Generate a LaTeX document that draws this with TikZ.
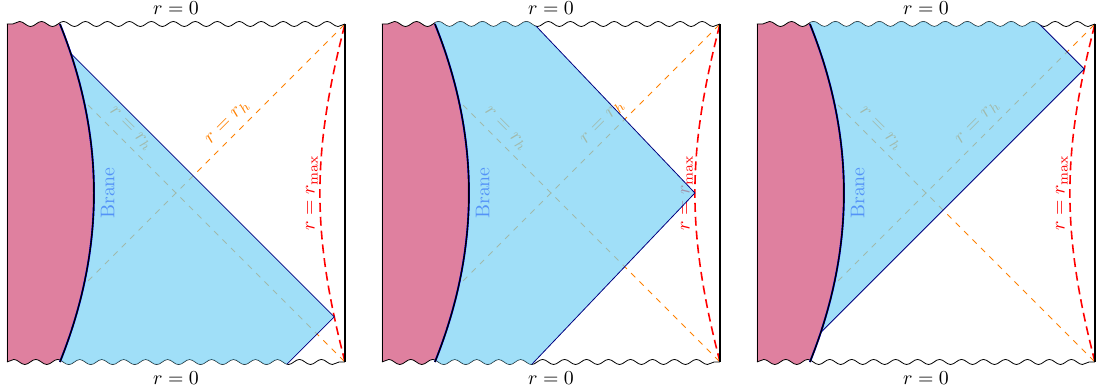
\documentclass[tikz,border=0pt]{standalone}
\usepackage{amsmath}
\usetikzlibrary{decorations.pathmorphing}
\definecolor{branefill}{RGB}{120,210,245}
\definecolor{braneedge}{RGB}{0,0,128}

\tikzset{
  wave/.style={decoration={snake, amplitude=0.045cm, segment length=0.39cm}},
  sing/.style={wave, decorate},
  horizon/.style={orange, dashed, thin},
  cutoff/.style={red, thick, dash pattern=on 4.5pt off 2.5pt},
  bulk/.style={fill=branefill, fill opacity=0.7},
}

\begin{document}
\begin{tikzpicture}
\useasboundingbox (-0.124,-0.533) rectangle (19.386,6.426);
\foreach \p in {0,1,2}{
\begin{scope}[xshift=\p*6.657cm]
  % inside of the diagram, cut by the singularities
  \begin{scope}
    \clip decorate[wave]{(0,0) -- (6,0)} -- (6,7) -- (0,7) -- cycle;
    \clip decorate[wave]{(6,6) -- (0,6)} -- (0,-1) -- (6,-1) -- cycle;
    \fill[purple!50] (0,6.3) -- (0.94,6.3) -- (0.94,6) .. controls (1.745,4) and (1.745,2) .. (0.94,0) -- (0.94,-0.3) -- (0,-0.3) -- cycle;
    \draw[horizon] (1.44,1.44) -- (6,6) node[pos=0.58, sloped, above] (rhA\p) {$r=r_h$};
    \draw[horizon] (1.44,4.56) -- (6,0) node[pos=0.13, sloped, above] (rhB\p) {$r=r_h$};
    \draw[cutoff] (6,0) .. controls (5.407,2.3) and (5.407,3.7) .. (6,6);
    \node[red, rotate=90, anchor=south, inner sep=1pt] (rmax\p) at (5.555,3) {$r=r_{\max}$};
    \node[blue, rotate=90] (brane\p) at (1.79,3) {Brane};
  \end{scope}
  \draw[sing] (0,0) -- (6,0);
  \draw[sing] (6,6) -- (0,6);
  \draw (0,0) -- (0,6);
  \draw[semithick] (6,0) -- (6,6);
  % region kept by the brane
  \begin{scope}
    \clip decorate[wave]{(0,0) -- (6,0)} -- (6,7) -- (0,7) -- cycle;
    \clip decorate[wave]{(6,6) -- (0,6)} -- (0,-1) -- (6,-1) -- cycle;
    \clip (0.94,6.3) -- (0.94,6) .. controls (1.745,4) and (1.745,2) .. (0.94,0) -- (0.94,-0.3) -- (6.3,-0.3) -- (6.3,6.3) -- cycle;
    \ifcase\p
      \fill[bulk] (0,6.61) -- (5.81,0.8) -- (4.80,-0.21) -- (0,-0.21) -- cycle;
      \draw[braneedge] (0,6.61) -- (5.81,0.8) -- (4.80,-0.21);
    \or
      \fill[bulk] (0,6.21) -- (2.50,6.21) -- (5.555,3) -- (2.50,-0.21) -- (0,-0.21) -- cycle;
      \draw[braneedge] (2.50,6.21) -- (5.555,3) -- (2.50,-0.21);
    \or
      \fill[bulk] (0,6.21) -- (4.80,6.21) -- (5.81,5.2) -- (0,-0.61) -- cycle;
      \draw[braneedge] (4.80,6.21) -- (5.81,5.2) -- (0,-0.61);
    \fi
  \end{scope}
  \draw[blue, line width=0.95pt] (0.94,6) .. controls (1.745,4) and (1.745,2) .. (0.94,0);
  \draw[line width=0.7pt] (0.94,6) .. controls (1.745,4) and (1.745,2) .. (0.94,0);
  \node[above] (top\p) at (3,6.05) {$r=0$};
  \node[below] (bot\p) at (3,-0.05) {$r=0$};
\end{scope}
}
\end{tikzpicture}
\end{document}
